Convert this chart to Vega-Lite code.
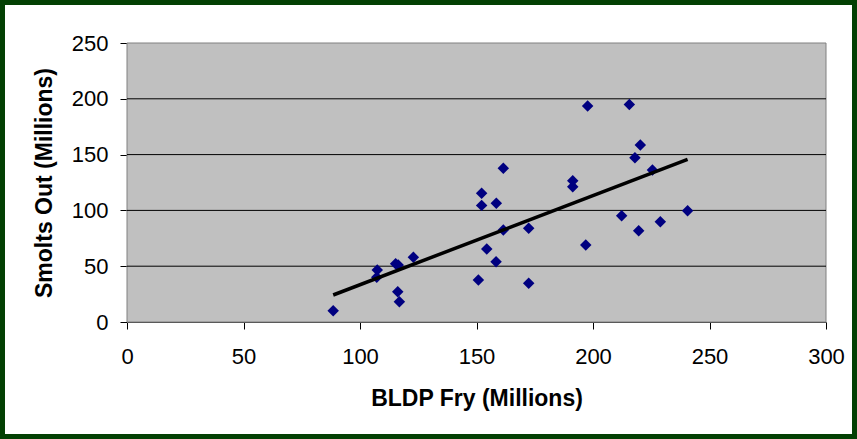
{
  "$schema": "https://vega.github.io/schema/vega-lite/v6.json",
  "width": 857,
  "height": 439,
  "autosize": "none",
  "padding": 0,
  "background": "#034003",
  "config": {
    "view": { "fill": "white", "stroke": "#034003", "strokeWidth": 10 },
    "font": "Liberation Sans"
  },
  "datasets": {
    "points": [
      { "fry": 88.5, "smolts": 10.1 },
      { "fry": 107.4, "smolts": 46.6 },
      { "fry": 107.2, "smolts": 40.0 },
      { "fry": 115.3, "smolts": 52.3 },
      { "fry": 116.4, "smolts": 51.0 },
      { "fry": 122.9, "smolts": 58.0 },
      { "fry": 116.2, "smolts": 27.2 },
      { "fry": 116.9, "smolts": 18.2 },
      { "fry": 150.8, "smolts": 37.6 },
      { "fry": 152.2, "smolts": 115.3 },
      { "fry": 152.2, "smolts": 104.5 },
      { "fry": 158.5, "smolts": 106.3 },
      { "fry": 154.4, "smolts": 65.4 },
      { "fry": 158.4, "smolts": 54.0 },
      { "fry": 161.5, "smolts": 82.4 },
      { "fry": 161.5, "smolts": 137.7 },
      { "fry": 172.4, "smolts": 83.9 },
      { "fry": 172.4, "smolts": 34.7 },
      { "fry": 191.3, "smolts": 126.6 },
      { "fry": 191.3, "smolts": 121.2 },
      { "fry": 196.9, "smolts": 69.0 },
      { "fry": 197.7, "smolts": 193.5 },
      { "fry": 212.3, "smolts": 95.3 },
      { "fry": 215.6, "smolts": 195.0 },
      { "fry": 218.0, "smolts": 147.2 },
      { "fry": 219.6, "smolts": 81.8 },
      { "fry": 220.3, "smolts": 158.6 },
      { "fry": 225.5, "smolts": 136.2 },
      { "fry": 228.9, "smolts": 89.9 },
      { "fry": 240.6, "smolts": 99.7 }
    ],
    "trend": [
      { "fry": 88.5, "smolts": 24.2 },
      { "fry": 240.6, "smolts": 145.8 }
    ],
    "grid": [
      { "smolts": 50 },
      { "smolts": 100 },
      { "smolts": 150 },
      { "smolts": 200 }
    ]
  },
  "layer": [
    {
      "data": { "values": [{}] },
      "mark": { "type": "rect", "fill": "#c0c0c0", "stroke": "#808080", "strokeWidth": 1 },
      "encoding": {
        "x": { "datum": 0, "type": "quantitative", "scale": { "domain": [0, 300], "range": [127, 826], "nice": false } },
        "x2": { "datum": 300 },
        "y": { "datum": 0, "type": "quantitative", "scale": { "domain": [0, 250], "range": [322, 43], "nice": false } },
        "y2": { "datum": 250 }
      }
    },
    {
      "data": { "name": "grid" },
      "mark": { "type": "rule", "color": "#000000", "strokeWidth": 1 },
      "encoding": {
        "x": { "datum": 0, "type": "quantitative" },
        "x2": { "datum": 300 },
        "y": { "field": "smolts", "type": "quantitative" }
      }
    },
    {
      "data": { "name": "points" },
      "mark": { "type": "point", "shape": "diamond", "filled": true, "size": 132, "color": "#000080", "opacity": 1 },
      "encoding": {
        "x": {
          "field": "fry",
          "type": "quantitative",
          "scale": { "domain": [0, 300], "range": [127, 826], "nice": false },
          "axis": {
            "title": "BLDP Fry (Millions)",
            "values": [0, 50, 100, 150, 200, 250, 300],
            "offset": -117,
            "grid": false,
            "domainColor": "#333333",
            "tickColor": "#000000",
            "tickSize": 7,
            "labelFontSize": 22,
            "labelColor": "#000000",
            "labelPadding": 17,
            "labelFlush": false,
            "titleFontSize": 23,
            "titleFontWeight": "bold",
            "titleColor": "#000000",
            "titlePadding": 20
          }
        },
        "y": {
          "field": "smolts",
          "type": "quantitative",
          "scale": { "domain": [0, 250], "range": [322, 43], "nice": false },
          "axis": {
            "title": "Smolts Out (Millions)",
            "values": [0, 50, 100, 150, 200, 250],
            "offset": -127,
            "grid": false,
            "domainColor": "#808080",
            "tickColor": "#000000",
            "tickSize": 7,
            "labelFontSize": 22,
            "labelColor": "#000000",
            "labelPadding": 12,
            "labelFlush": false,
            "titleFontSize": 23,
            "titleFontWeight": "bold",
            "titleColor": "#000000",
            "titlePadding": 15
          }
        }
      }
    },
    {
      "data": { "name": "trend" },
      "mark": { "type": "line", "color": "#000000", "strokeWidth": 3.5 },
      "encoding": {
        "x": { "field": "fry", "type": "quantitative" },
        "y": { "field": "smolts", "type": "quantitative" }
      }
    }
  ]
}
